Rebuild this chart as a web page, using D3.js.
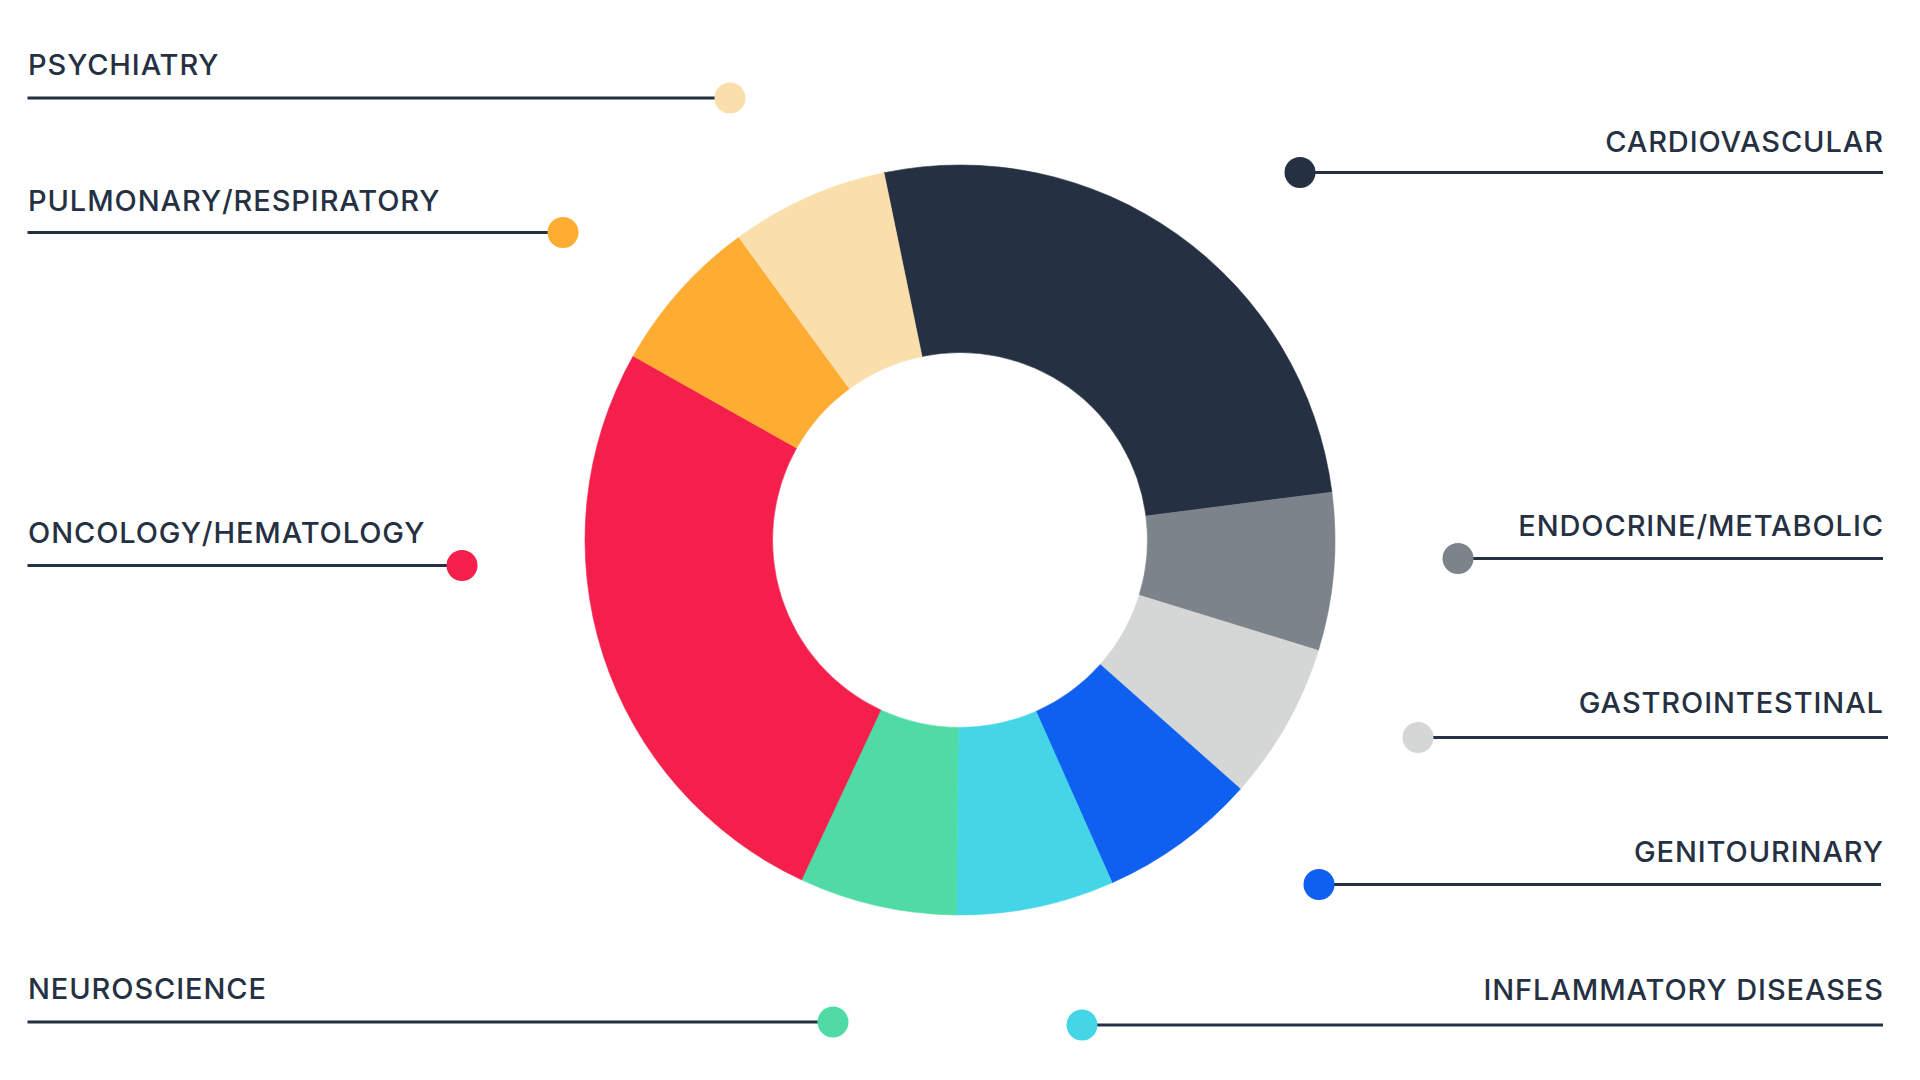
<!DOCTYPE html>
<html>
<head>
<meta charset="utf-8">
<script src="https://cdn.jsdelivr.net/npm/d3@7"></script>
<style>
  html, body { margin: 0; padding: 0; background: #ffffff; overflow: hidden; }
  svg { display: block; }
</style>
</head>
<body>
<svg id="chart" width="1920" height="1080"></svg>
<script>
// ---- data ----
const categories = [
  "CARDIOVASCULAR",
  "ENDOCRINE/METABOLIC",
  "GASTROINTESTINAL",
  "GENITOURINARY",
  "INFLAMMATORY DISEASES",
  "NEUROSCIENCE",
  "ONCOLOGY/HEMATOLOGY",
  "PULMONARY/RESPIRATORY",
  "PSYCHIATRY"
];
const values = [27, 7, 7, 7, 7, 7, 27, 7, 7];
const colors = ["#253142", "#7d838a", "#d5d7d7", "#0f5ff0", "#44d5e6", "#50dba6", "#f51f4c", "#ffac32", "#fadfac"];

// ---- layout (positions of the callout labels) ----
const labelLayout = {
  "CARDIOVASCULAR":        { side: "right", lineY: 172.5, textY: 151.5, dotX: 1300, lineEnd: 1883 },
  "ENDOCRINE/METABOLIC":   { side: "right", lineY: 558.5, textY: 536,   dotX: 1458, lineEnd: 1883 },
  "GASTROINTESTINAL":      { side: "right", lineY: 737.5, textY: 712.5, dotX: 1418, lineEnd: 1888 },
  "GENITOURINARY":         { side: "right", lineY: 884.5, textY: 861.5, dotX: 1319, lineEnd: 1881 },
  "INFLAMMATORY DISEASES": { side: "right", lineY: 1025,  textY: 1000,  dotX: 1082, lineEnd: 1883 },
  "NEUROSCIENCE":          { side: "left",  lineY: 1022,  textY: 998.5, dotX: 833,  lineEnd: 27.5 },
  "ONCOLOGY/HEMATOLOGY":   { side: "left",  lineY: 565.5, textY: 542.5, dotX: 462,  lineEnd: 27.5 },
  "PULMONARY/RESPIRATORY": { side: "left",  lineY: 232.5, textY: 210.5, dotX: 563,  lineEnd: 27.5 },
  "PSYCHIATRY":            { side: "left",  lineY: 98,    textY: 74.5,  dotX: 730,  lineEnd: 27.5 }
};

const ink = "#253142";
const cx = 960, cy = 540, outerR = 375, innerR = 187.5;
const startDeg = -11.7;
const letterSpacing = 0.9;

const svg = d3.select("#chart");

const rows = categories.map((c, i) => ({ name: c, value: values[i], color: colors[i], ...labelLayout[c] }));

const pie = d3.pie()
  .sort(null)
  .value(d => d.value)
  .startAngle(startDeg * Math.PI / 180)
  .endAngle(startDeg * Math.PI / 180 + 2 * Math.PI);

const arc = d3.arc().innerRadius(innerR).outerRadius(outerR);

svg.append("g")
  .attr("transform", `translate(${cx},${cy})`)
  .selectAll("path")
  .data(pie(rows))
  .join("path")
  .attr("d", arc)
  .attr("fill", d => d.data.color)
  .attr("stroke", d => d.data.color)
  .attr("stroke-width", 0.6);

const labels = svg.append("g").attr("class", "labels");

labels.selectAll("line")
  .data(rows)
  .join("line")
  .attr("x1", d => d.dotX)
  .attr("x2", d => d.lineEnd)
  .attr("y1", d => d.lineY)
  .attr("y2", d => d.lineY)
  .attr("stroke", ink)
  .attr("stroke-width", 3);

labels.selectAll("circle")
  .data(rows)
  .join("circle")
  .attr("cx", d => d.dotX)
  .attr("cy", d => d.lineY)
  .attr("r", 15.5)
  .attr("fill", d => d.color);

labels.selectAll("text")
  .data(rows)
  .join("text")
  .attr("x", d => d.side === "left" ? 28 : 1883 + letterSpacing)
  .attr("y", d => d.textY)
  .attr("text-anchor", d => d.side === "left" ? "start" : "end")
  .attr("fill", ink)
  .style("font-family", "Inter, 'Noto Sans', sans-serif")
  .style("font-weight", 500)
  .style("font-size", "29px")
  .style("letter-spacing", letterSpacing + "px")
  .text(d => d.name);
</script>
</body>
</html>
